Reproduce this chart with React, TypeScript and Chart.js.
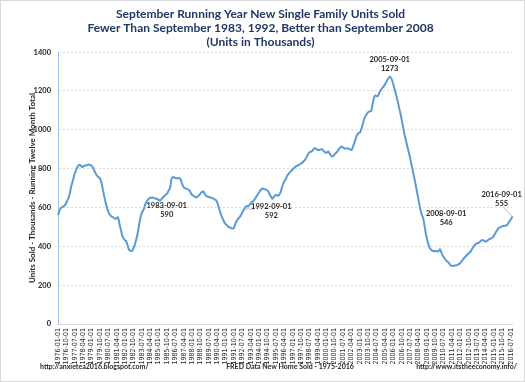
import React, { useEffect, useRef } from 'react';
import { Chart, registerables } from 'chart.js';
Chart.register(...registerables);

const START_YEAR = 1976;

const v1976 = [562, 575, 590, 596, 600, 603, 606, 610, 615, 625, 635, 645];
const v1977 = [660, 680, 705, 722, 740, 758, 775, 788, 800, 810, 816, 820];
const v1978 = [818, 812, 808, 810, 814, 816, 818, 817, 819, 821, 820, 818];
const v1979 = [815, 810, 800, 790, 780, 770, 764, 758, 754, 750, 738, 720];
const v1980 = [697, 672, 648, 628, 610, 592, 578, 567, 560, 556, 552, 550];
const v1981 = [546, 543, 541, 545, 550, 540, 515, 495, 475, 454, 445, 436];
const v1982 = [430, 428, 415, 400, 385, 380, 377, 376, 380, 390, 402, 418];
const v1983 = [435, 454, 480, 510, 535, 558, 572, 582, 590, 605, 620, 630];
const v1984 = [636, 642, 648, 650, 651, 650, 652, 650, 646, 645, 645, 642];
const v1985 = [640, 636, 636, 642, 650, 653, 658, 663, 667, 671, 680, 690];
const v1986 = [697, 720, 750, 755, 757, 754, 752, 750, 750, 752, 751, 750];
const v1987 = [740, 725, 712, 705, 700, 698, 697, 694, 691, 688, 680, 670];
const v1988 = [665, 662, 658, 655, 653, 653, 656, 661, 666, 672, 678, 681];
const v1989 = [683, 675, 666, 659, 657, 655, 654, 653, 651, 649, 648, 645];
const v1990 = [642, 639, 636, 625, 610, 593, 578, 563, 550, 541, 530, 520];
const v1991 = [514, 510, 505, 500, 498, 496, 494, 492, 492, 496, 510, 524];
const v1992 = [532, 540, 546, 550, 558, 566, 576, 585, 592, 600, 606, 608];
const v1993 = [606, 610, 616, 622, 628, 631, 636, 642, 648, 656, 664, 672];
const v1994 = [680, 686, 692, 697, 697, 695, 694, 693, 690, 686, 680, 670];
const v1995 = [660, 652, 645, 650, 656, 662, 664, 663, 662, 662, 670, 680];
const v1996 = [697, 712, 725, 735, 742, 752, 763, 770, 775, 782, 787, 792];
const v1997 = [797, 802, 806, 810, 814, 816, 818, 820, 824, 828, 830, 834];
const v1998 = [840, 844, 852, 862, 870, 879, 884, 887, 888, 892, 898, 905];
const v1999 = [905, 902, 898, 896, 896, 898, 899, 900, 897, 892, 887, 883];
const v2000 = [882, 885, 888, 882, 875, 868, 862, 864, 868, 874, 879, 884];
const v2001 = [890, 896, 903, 908, 914, 912, 908, 905, 903, 904, 905, 905];
const v2002 = [903, 900, 897, 896, 905, 918, 931, 945, 960, 974, 980, 984];
const v2003 = [986, 995, 1010, 1028, 1044, 1060, 1070, 1078, 1085, 1090, 1093, 1096];
const v2004 = [1096, 1115, 1140, 1160, 1174, 1176, 1174, 1172, 1180, 1192, 1200, 1209];
const v2005 = [1214, 1220, 1226, 1234, 1242, 1252, 1260, 1268, 1273, 1270, 1262, 1250];
const v2006 = [1232, 1215, 1198, 1180, 1160, 1140, 1118, 1096, 1075, 1050, 1025, 1000];
const v2007 = [974, 955, 935, 915, 896, 875, 855, 830, 808, 785, 762, 740];
const v2008 = [715, 690, 665, 640, 612, 590, 570, 556, 546, 520, 490, 462];
const v2009 = [440, 420, 405, 392, 385, 380, 378, 376, 375, 376, 375, 374];
const v2010 = [374, 378, 385, 375, 362, 352, 345, 337, 330, 325, 321, 318];
const v2011 = [312, 305, 300, 299, 300, 300, 301, 302, 303, 305, 308, 310];
const v2012 = [315, 322, 328, 333, 340, 345, 350, 355, 360, 364, 368, 374];
const v2013 = [382, 390, 398, 405, 411, 414, 416, 418, 420, 424, 428, 432];
const v2014 = [432, 430, 427, 425, 426, 430, 434, 437, 439, 441, 444, 446];
const v2015 = [455, 463, 472, 480, 487, 494, 496, 498, 501, 503, 504, 506];
const v2016 = [506, 507, 510, 517, 525, 532, 538, 546, 555];

const yearly = [
  v1976, v1977, v1978, v1979, v1980, v1981, v1982, v1983, v1984, v1985,
  v1986, v1987, v1988, v1989, v1990, v1991, v1992, v1993, v1994, v1995,
  v1996, v1997, v1998, v1999, v2000, v2001, v2002, v2003, v2004, v2005,
  v2006, v2007, v2008, v2009, v2010, v2011, v2012, v2013, v2014, v2015, v2016,
];

const values: number[] = [];
const categories: string[] = [];
yearly.forEach((arr, yi) => {
  arr.forEach((v, m) => {
    values.push(v);
    categories.push(`${START_YEAR + yi}-${String(m + 1).padStart(2, '0')}-01`);
  });
});

const TICK_EVERY = 9;

const TITLE_LINES = [
  'September Running Year New Single Family Units Sold',
  'Fewer Than September 1983, 1992, Better than September 2008',
  '(Units in Thousands)',
];
const Y_TITLE = 'Units Sold - Thousands - Running Twelve Month Total';
const X_TITLE = 'FRED Data New Home Sold - 1975-2016';
const LEFT_NOTE = 'http://anxietea2016.blogspot.com/';
const RIGHT_NOTE = 'http://www.itstheeconomy.info/';

const annotDates = ['1983-09-01', '1992-09-01', '2005-09-01', '2008-09-01', '2016-09-01'];

// label placement relative to the point (style only)
const annotStyle = [
  { dx: 23, dy: -4, leader: false },
  { dx: 27, dy: -2, leader: true },
  { dx: 0, dy: -17, leader: false },
  { dx: 23, dy: -4, leader: false },
  { dx: -11, dy: -22, leader: true },
];

const FONT = 'Lato, "Open Sans", sans-serif';
const NARROW = '"Liberation Sans Narrow", "DejaVu Sans Condensed", Lato, sans-serif';

const annotPlugin = {
  id: 'annotPlugin',
  afterDatasetsDraw(chart: any) {
    const { ctx, scales } = chart;
    const xs = scales.x;
    const ys = scales.y;
    ctx.save();
    annotDates.forEach((d, k) => {
      const i = categories.indexOf(d);
      if (i < 0) return;
      const px = xs.getPixelForValue(i);
      const py = ys.getPixelForValue(values[i]);
      const st = annotStyle[k];
      const lx = px + st.dx;
      const ly = py + st.dy;
      if (st.leader) {
        ctx.strokeStyle = '#BFBFBF';
        ctx.lineWidth = 1;
        ctx.beginPath();
        if (st.dx > 0) {
          ctx.moveTo(px + 1, py);
          ctx.lineTo(lx - 17, ly + 2);
        } else {
          ctx.moveTo(px - 1, py);
          ctx.lineTo(lx + 2, ly + 13);
        }
        ctx.stroke();
      }
      ctx.fillStyle = '#262626';
      ctx.font = `bold 7.5px ${FONT}`;
      ctx.textAlign = 'center';
      ctx.textBaseline = 'middle';
      ctx.fillText(d, lx, ly);
      ctx.fillText(String(values[i]), lx, ly + 9);
    });
    ctx.restore();
  },
  afterDraw(chart: any) {
    const { ctx } = chart;
    ctx.save();
    ctx.fillStyle = '#262626';
    ctx.font = `bold 7px ${FONT}`;
    ctx.textBaseline = 'middle';
    ctx.textAlign = 'left';
    ctx.fillText(LEFT_NOTE, 40, 367);
    ctx.textAlign = 'center';
    ctx.fillText(X_TITLE, 290, 367);
    ctx.textAlign = 'right';
    ctx.fillText(RIGHT_NOTE, 517, 367);
    ctx.restore();
  },
};

export default function App() {
  const ref = useRef<HTMLCanvasElement>(null);
  useEffect(() => {
    document.body.style.margin = '0';
    const chart = new Chart(ref.current!, {
      type: 'line',
      data: {
        labels: categories,
        datasets: [
          {
            data: values,
            borderColor: '#5B9BD5',
            borderWidth: 2,
            pointRadius: 0,
            tension: 0.3,
            fill: false,
          },
        ],
      },
      options: {
        animation: false,
        responsive: false,
        layout: { padding: { left: 0, right: 4, top: 0, bottom: 0 } },
        plugins: {
          legend: { display: false },
          tooltip: { enabled: false },
          title: {
            display: true,
            text: TITLE_LINES,
            color: '#1F3864',
            font: { family: FONT, size: 12, weight: 'bold', lineHeight: 1.17 },
            padding: { top: 7, bottom: 3 },
          },
        },
        scales: {
          x: {
            type: 'category',
            offset: false,
            grid: { display: false, drawTicks: false },
            border: { display: true, color: '#D9D9D9' },
            ticks: {
              autoSkip: false,
              minRotation: 90,
              maxRotation: 90,
              padding: 4,
              color: '#262626',
              font: { family: NARROW, size: 7 },
              callback: (_v: any, i: number) => (i % TICK_EVERY === 0 ? categories[i] : ''),
            },
            afterFit: (s: any) => {
              s.height = 58;
            },
          },
          y: {
            min: 0,
            max: 1400,
            ticks: {
              stepSize: 200,
              padding: 7,
              color: '#262626',
              font: { family: FONT, size: 7.5, weight: 'bold' },
              callback: (v: any) => String(v),
            },
            grid: { color: '#D9D9D9', drawTicks: false },
            border: { display: true, color: '#9DC3E6', dash: [2, 2] },
            title: {
              display: true,
              text: Y_TITLE,
              color: '#262626',
              font: { family: FONT, size: 8, weight: 'bold' },
              padding: { top: 28, bottom: 0 },
            },
            afterFit: (s: any) => {
              s.width = 58;
            },
          },
        },
      },
      plugins: [annotPlugin],
    });
    return () => chart.destroy();
  }, []);
  return (
    <div
      style={{
        position: 'fixed',
        left: 0,
        top: 0,
        width: 525,
        height: 382,
        background: '#fff',
        boxSizing: 'border-box',
      }}
    >
      <canvas ref={ref} width={525} height={382} style={{ display: 'block' }} />
      <div
        style={{
          position: 'absolute',
          left: 0,
          top: 0,
          width: 523,
          height: 380,
          border: '1px solid #D9D9D9',
          pointerEvents: 'none',
        }}
      />
    </div>
  );
}
